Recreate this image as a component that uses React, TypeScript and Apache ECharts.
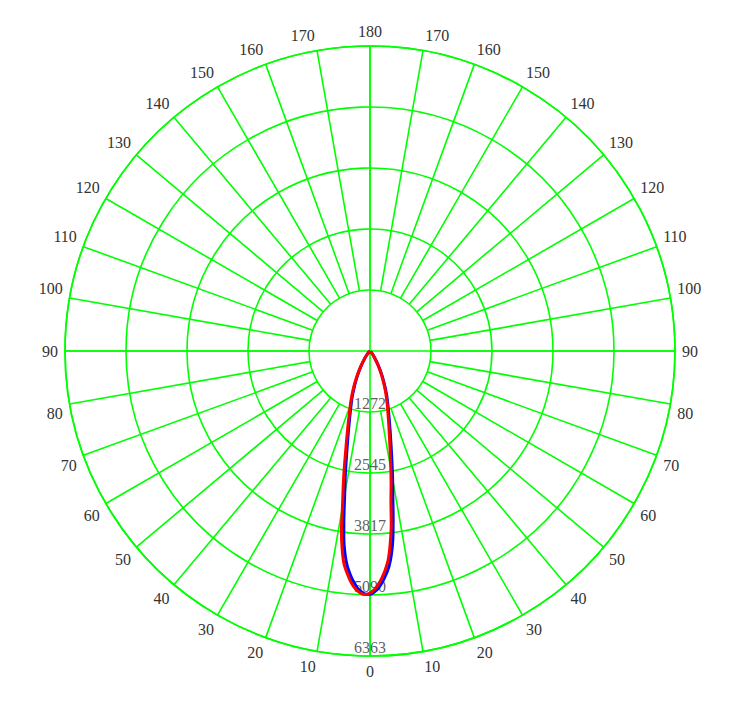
import React, { useEffect, useRef } from "react";
import * as echarts from "echarts";

// Angles (degrees, 0 = downward, negative = left side)
const angles = [-90, -60, -50, -40, -35, -30, -27, -24, -21, -18, -16, -14, -12, -11, -10, -9, -8, -7, -6, -5, -4, -3, -2, -1, 0, 1, 2, 3, 4, 5, 6, 7, 8, 9, 10, 11, 12, 14, 16, 18, 21, 24, 27, 30, 35, 40, 50, 60, 90];

// Blue curve intensities (cd)
const blueValues = [0, 5, 16, 88, 195, 400, 575, 790, 1045, 1325, 1585, 1930,
  2415, 2720, 3040, 3470, 3925, 4270, 4520, 4690, 4838, 4953, 5031, 5074, 5074,
  5031, 4953, 4838, 4690, 4520, 4270, 3925, 3470, 3040, 2720, 2415, 2150,
  1745, 1445, 1225, 960, 715, 510, 345, 165, 75, 14, 5, 0];

// Red curve intensities (cd)
const redValues = [0, 4, 18, 95, 220, 435, 625, 850, 1110, 1405, 1695, 2075,
  2624, 2944, 3308, 3814, 4174, 4466, 4642, 4797, 4924, 5012, 5067, 5080, 5050,
  4981, 4878, 4738, 4574, 4366, 4036, 3632, 3136, 2816, 2502, 2222, 1990,
  1630, 1360, 1160, 900, 665, 470, 320, 140, 65, 13, 4, 0];

// Radius ring values and labels
const ringValues = [1272.6, 2545.2, 3817.8, 5090.4, 6363];
const ringLabels = ["1272", "2545", "3817", "5090", "6363"];
const maxValue = 6363;
const ringStep = 1272.6;

const GREEN = "#00ff00";
const LABEL = "#333333";

function toPolar(vals: number[]) {
  return vals.map((v, i) => [v, (angles[i] + 360) % 360]);
}

function angleLabel(v: number) {
  const t = String(v <= 180 ? v : 360 - v);
  if (v === 10) return `{r2|${t}}`;
  if (v === 170) return `{r3|${t}}`;
  if (v === 350) return `{l2|${t}}`;
  if (v === 190) return `{l3|${t}}`;
  if (v === 80 || v === 280) return `{d|${t}}`;
  if (v === 100 || v === 260) return `{u|${t}}`;
  return t;
}

export default function App() {
  const ref = useRef<HTMLDivElement>(null);
  useEffect(() => {
    if (!ref.current) return;
    const chart = echarts.init(ref.current, null, { renderer: "svg" });
    const cx = 370;
    const cy = 351;
    const R = 305;
    const r0 = (R * ringStep) / maxValue;
    const base = { color: LABEL, fontSize: 16, fontFamily: "Liberation Serif" };
    chart.setOption({
      animation: false,
      backgroundColor: "#ffffff",
      textStyle: { fontFamily: "Liberation Serif" },
      polar: [
        { center: [cx, cy], radius: [0, R] },
        { center: [cx, cy], radius: [r0, R] },
      ],
      angleAxis: [
        {
          polarIndex: 0,
          type: "value",
          min: 0,
          max: 360,
          interval: 90,
          startAngle: 270,
          clockwise: false,
          axisLine: { show: true, lineStyle: { color: GREEN, width: 1.6 } },
          axisTick: { show: false },
          axisLabel: { show: false },
          splitLine: { show: true, lineStyle: { color: GREEN, width: 1.6 } },
        },
        {
          polarIndex: 1,
          type: "value",
          min: 0,
          max: 360,
          interval: 10,
          startAngle: 270,
          clockwise: false,
          axisLine: { show: false },
          axisTick: { show: false },
          axisLabel: {
            show: true,
            margin: 7,
            ...base,
            formatter: angleLabel,
            rich: {
              r2: { ...base, padding: [0, 0, 0, 16] },
              r3: { ...base, padding: [0, 0, 0, 26] },
              l2: { ...base, padding: [0, 16, 0, 0] },
              l3: { ...base, padding: [0, 26, 0, 0] },
              d: { ...base, padding: [16, 0, 0, 0] },
              u: { ...base, padding: [0, 0, 16, 0] },
            },
          },
          splitLine: { show: true, lineStyle: { color: GREEN, width: 1.6 } },
        },
      ],
      radiusAxis: [
        {
          polarIndex: 0,
          type: "value",
          min: 0,
          max: maxValue,
          interval: ringStep,
          axisLine: { show: false },
          axisTick: { show: false },
          axisLabel: { show: false },
          splitLine: { show: true, lineStyle: { color: GREEN, width: 1.6 } },
        },
        {
          polarIndex: 1,
          type: "value",
          min: 0,
          max: 1,
          axisLine: { show: false },
          axisTick: { show: false },
          axisLabel: { show: false },
          splitLine: { show: false },
        },
      ],
      series: [
        {
          type: "scatter",
          coordinateSystem: "polar",
          polarIndex: 0,
          z: 1,
          symbolSize: 0,
          silent: true,
          data: ringValues.map((v, i) => ({ value: [v, 0], name: ringLabels[i] })),
          label: {
            show: true,
            position: "top",
            distance: 1,
            ...base,
            formatter: (p: any) => p.name,
          },
        },
        {
          type: "line",
          coordinateSystem: "polar",
          polarIndex: 0,
          z: 3,
          smooth: 0.3,
          showSymbol: false,
          lineStyle: { color: "#0000ff", width: 3 },
          data: toPolar(blueValues),
        },
        {
          type: "line",
          coordinateSystem: "polar",
          polarIndex: 0,
          z: 4,
          smooth: 0.3,
          showSymbol: false,
          lineStyle: { color: "#ff0000", width: 3 },
          data: toPolar(redValues),
        },
      ],
    });
    return () => chart.dispose();
  }, []);
  return (
    <div
      ref={ref}
      style={{ position: "absolute", left: 0, top: 0, width: 741, height: 702 }}
    />
  );
}
